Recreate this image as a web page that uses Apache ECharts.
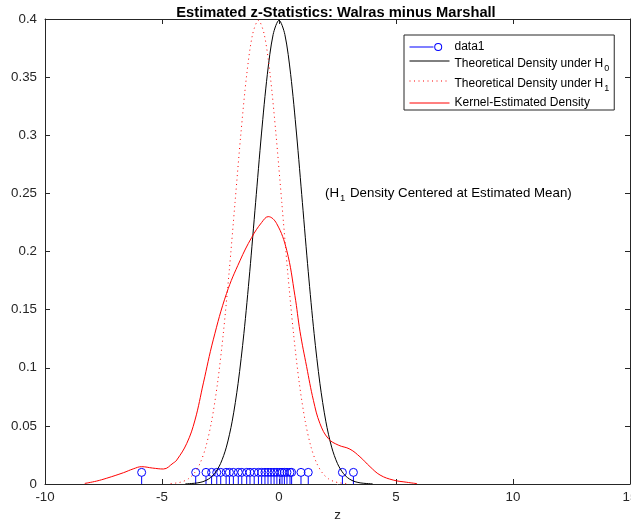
<!DOCTYPE html>
<html>
<head>
<meta charset="utf-8">
<script src="https://cdn.jsdelivr.net/npm/echarts@6/dist/echarts.min.js"></script>
<style>
  html, body { margin: 0; padding: 0; background: #fff; }
  #chart { width: 631px; height: 525px; }
</style>
</head>
<body>
<div id="chart"></div>
<script>
// stem positions (estimated z statistics)
const stemZ = [-5.87, -3.56, -3.12, -2.88, -2.66, -2.49, -2.26, -2.12, -1.95, -1.74, -1.59,
  -1.38, -1.24, -1.06, -0.88, -0.74, -0.60, -0.47, -0.34, -0.21, -0.09, 0.04, 0.13, 0.23,
  0.34, 0.47, 0.54, 0.94, 1.25, 2.71, 3.18];
const stemHeight = 0.01;

// theoretical density under H0
const h0Z = [-4, -3.75, -3.5, -3.25, -3, -2.75, -2.5, -2.25, -2, -1.75, -1.5, -1.25, -1, -0.75,
  -0.5, -0.25, 0, 0.25, 0.5, 0.75, 1, 1.25, 1.5, 1.75, 2, 2.25, 2.5, 2.75, 3, 3.25, 3.5, 3.75, 4];
const h0Density = [0.0001, 0.0004, 0.0009, 0.0020, 0.0044, 0.0091, 0.0175, 0.0317, 0.0540,
  0.0863, 0.1295, 0.1826, 0.2420, 0.3011, 0.3521, 0.3867, 0.3989, 0.3867, 0.3521, 0.3011,
  0.2420, 0.1826, 0.1295, 0.0863, 0.0540, 0.0317, 0.0175, 0.0091, 0.0044, 0.0020, 0.0009,
  0.0004, 0.0001];

// theoretical density under H1 (centered at estimated mean)
const h1Z = [-4.63, -4.38, -4.13, -3.88, -3.63, -3.38, -3.13, -2.88, -2.63, -2.38, -2.13, -1.88,
  -1.63, -1.38, -1.13, -0.88, -0.63, -0.38, -0.13, 0.12, 0.37, 0.62, 0.87, 1.12, 1.37, 1.62,
  1.87, 2.12, 2.37, 2.62, 2.87];
const h1Density = [0.0004, 0.0009, 0.0020, 0.0044, 0.0091, 0.0175, 0.0317, 0.0540, 0.0863,
  0.1295, 0.1826, 0.2420, 0.3011, 0.3521, 0.3867, 0.3989, 0.3867, 0.3521, 0.3011, 0.2420,
  0.1826, 0.1295, 0.0863, 0.0540, 0.0317, 0.0175, 0.0091, 0.0044, 0.0020, 0.0009, 0.0004];

// kernel-estimated density
const kernelZ = [-8.3, -7.8, -7.36, -6.65, -6.23, -5.87, -5.4, -4.94, -4.52, -4.37, -3.94, -3.59,
  -3.23, -2.81, -2.24, -1.67, -1.17, -0.74, -0.46, -0.10, 0.33, 0.68, 0.90, 1.18, 1.47, 1.75,
  2.11, 2.53, 3.03, 3.46, 3.89, 4.32, 4.88, 5.46, 5.9];
const kernelDensity = [0.0005, 0.0025, 0.005, 0.0097, 0.013, 0.0149, 0.0137, 0.0129, 0.018,
  0.0206, 0.035, 0.055, 0.087, 0.124, 0.164, 0.192, 0.212, 0.225, 0.230, 0.224, 0.201, 0.162,
  0.131, 0.101, 0.072, 0.052, 0.039, 0.0335, 0.030, 0.0234, 0.0149, 0.0077, 0.0034, 0.0015,
  0.0003];

const xMin = -10, xMax = 15, xStep = 5;
const yMin = 0, yMax = 0.4, yStep = 0.05;

const FONT = '"Liberation Sans", Arial, Helvetica, sans-serif';
const AXIS_COLOR = '#262626';
const AXIS_FONT = 13.3;

const pairs = (xs, ys) => xs.map((x, i) => [x, ys[i]]);

// rich styles with a lowered subscript
const legendRich = {
  m: { fontSize: 12, lineHeight: 18, verticalAlign: 'middle', fontFamily: FONT, color: '#000' },
  s: { fontSize: 9, lineHeight: 6, verticalAlign: 'bottom', padding: [0, 0, 0, 1], fontFamily: FONT, color: '#000' }
};
const noteRich = {
  m: { fontSize: AXIS_FONT, lineHeight: 20, verticalAlign: 'middle', fontFamily: FONT, color: '#000' },
  s: { fontSize: 9.5, lineHeight: 6, verticalAlign: 'bottom', padding: [0, 1, 0, 1], fontFamily: FONT, color: '#000' }
};

const legendLabels = {
  'data1': '{m|data1}',
  'H0': '{m|Theoretical Density under H}{s|0}',
  'H1': '{m|Theoretical Density under H}{s|1}',
  'Kernel': '{m|Kernel-Estimated Density}'
};

// line with open circle at its right part, for the stem legend entry
const stemIcon = 'path://M0 4.5L24 4.5L24 5.5L0 5.5Z' +
  'M28.7 1A4 4 0 0 1 28.7 9A4 4 0 0 1 28.7 1Z' +
  'M28.7 2A3 3 0 0 0 28.7 8A3 3 0 0 0 28.7 2Z' +
  'M40 0L40 10L40 10Z';

const chart = echarts.init(document.getElementById('chart'));

function axisCommon(extra) {
  return Object.assign({
    type: 'value',
    axisLine: { show: true, onZero: false, lineStyle: { color: AXIS_COLOR, width: 1 } },
    axisTick: { show: true, inside: true, length: 5, lineStyle: { color: AXIS_COLOR } },
    splitLine: { show: false },
    axisLabel: { color: AXIS_COLOR, fontSize: AXIS_FONT, fontFamily: FONT }
  }, extra);
}

const subRowText = { padding: [6, 0, 0, 0] };

const option = {
  animation: false,
  backgroundColor: '#fff',
  title: {
    text: 'Estimated z-Statistics: Walras minus Marshall',
    left: 331,
    top: 0,
    textAlign: 'center',
    textStyle: { fontSize: 14.7, fontWeight: 'bold', color: '#000', fontFamily: FONT }
  },
  grid: { left: 45, right: 1, top: 19, bottom: 41, containLabel: false, outerBoundsMode: 'none' },
  xAxis: [
    axisCommon({
      min: xMin, max: xMax, interval: xStep, position: 'bottom',
      axisLabel: { color: AXIS_COLOR, fontSize: AXIS_FONT, fontFamily: FONT, margin: 7 },
      name: 'z', nameLocation: 'middle', nameGap: 25,
      nameTextStyle: { color: AXIS_COLOR, fontSize: AXIS_FONT, fontFamily: FONT }
    }),
    axisCommon({
      min: xMin, max: xMax, interval: xStep, position: 'top',
      axisLabel: { show: false }
    })
  ],
  yAxis: [
    axisCommon({
      min: yMin, max: yMax, interval: yStep, position: 'left',
      axisLabel: { color: AXIS_COLOR, fontSize: AXIS_FONT, fontFamily: FONT, margin: 8 }
    }),
    axisCommon({
      min: yMin, max: yMax, interval: yStep, position: 'right',
      axisLabel: { show: false }
    })
  ],
  legend: {
    orient: 'vertical',
    left: 404,
    top: 35,
    padding: [6, 5, 1, 5],
    itemGap: 4,
    itemWidth: 40,
    itemHeight: 10,
    backgroundColor: '#fff',
    borderColor: AXIS_COLOR,
    borderWidth: 1,
    selectedMode: false,
    textStyle: { fontSize: 12, color: '#000', fontFamily: FONT, rich: legendRich },
    formatter: name => legendLabels[name],
    data: [
      { name: 'data1', icon: stemIcon, itemStyle: { color: '#0000ff', borderWidth: 0 } },
      { name: 'H0', itemStyle: { opacity: 0 }, lineStyle: { width: 1 }, textStyle: subRowText },
      { name: 'H1', itemStyle: { opacity: 0 }, lineStyle: { width: 1 }, textStyle: subRowText },
      { name: 'Kernel', itemStyle: { opacity: 0 }, lineStyle: { width: 1 } }
    ]
  },
  graphic: [{
    type: 'text',
    left: 325,
    top: 187,
    style: {
      text: '{m|(H}{s|1}{m| Density Centered at Estimated Mean)}',
      rich: noteRich
    }
  }],
  series: [
    {
      name: 'data1',
      type: 'custom',
      itemStyle: { color: '#0000ff' },
      encode: { x: 0, y: 1 },
      data: stemZ.map(z => [z, stemHeight]),
      renderItem: function (params, api) {
        const base = api.coord([api.value(0), 0]);
        const top = api.coord([api.value(0), api.value(1)]);
        const r = 4;
        return {
          type: 'group',
          children: [
            {
              type: 'line',
              shape: { x1: base[0], y1: base[1], x2: top[0], y2: top[1] + r },
              style: { stroke: '#0000ff', lineWidth: 1 }
            },
            {
              type: 'circle',
              shape: { cx: top[0], cy: top[1], r: r },
              style: { stroke: '#0000ff', fill: 'none', lineWidth: 1 }
            }
          ]
        };
      }
    },
    {
      name: 'H0',
      type: 'line',
      data: pairs(h0Z, h0Density),
      smooth: 0.3,
      symbol: 'none',
      itemStyle: { color: '#000' },
      lineStyle: { color: '#000', width: 1 }
    },
    {
      name: 'H1',
      type: 'line',
      data: pairs(h1Z, h1Density),
      smooth: 0.3,
      symbol: 'none',
      itemStyle: { color: '#ff0000' },
      lineStyle: { color: '#ff0000', width: 1, type: [1, 3.5] }
    },
    {
      name: 'Kernel',
      type: 'line',
      data: pairs(kernelZ, kernelDensity),
      smooth: 0.4,
      symbol: 'none',
      itemStyle: { color: '#ff0000' },
      lineStyle: { color: '#ff0000', width: 1 }
    }
  ]
};

chart.setOption(option);
</script>
</body>
</html>
